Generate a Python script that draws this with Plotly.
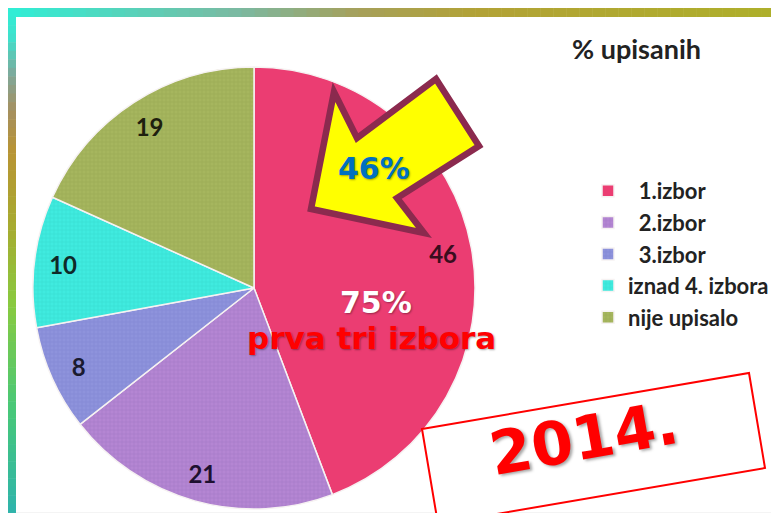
"""Pie chart: % upisanih, 2014."""

import plotly.graph_objects as go

W, H = 779, 513

# data
labels = ["1.izbor", "2.izbor", "3.izbor", "iznad 4. izbora", "nije upisalo"]
legend_names = ["\u00a0\u00a01.izbor", "\u00a0\u00a02.izbor", "\u00a0\u00a03.izbor",
                "iznad 4. izbora", "nije upisalo"]
values = [46, 21, 8, 10, 19]
colors = ["#EB3D72", "#B486D3", "#8E93DC", "#40EBDF", "#A6B65E"]
pattern_fg = ["#EB3D72", "#9468B8", "#7276C6", "#2ACDC2", "#8A9A46"]
value_colors = ["#3a0d1e", "#1e1030", "#1a1a30", "#0f2a28", "#1e200e"]

title_text = "% upisanih"
arrow_text = "46%"
share_text = "75%"
share_note = "prva tri izbora"
year_text = "2014."


def px(x, y):
    """pixel -> paper coords"""
    return x / W, 1 - y / H


def path_from(points):
    parts = []
    for i, (x, y) in enumerate(points):
        a, b = px(x, y)
        parts.append(("M" if i == 0 else "L") + f"{a:.5f},{b:.5f}")
    return " ".join(parts) + " Z"


def hex_mix(c1, c2, t):
    a = [int(c1[i:i + 2], 16) for i in (1, 3, 5)]
    b = [int(c2[i:i + 2], 16) for i in (1, 3, 5)]
    return "#" + "".join(f"{round(a[k] + (b[k] - a[k]) * t):02x}" for k in range(3))


def gradient_band(stops, horizontal, thick, steps=60):
    """stepwise frame band of the slide"""
    out = []
    length = W if horizontal else H
    for s in range(steps):
        p0, p1 = length * s / steps, length * (s + 1) / steps
        pos = (p0 + p1) / 2 / length
        for j in range(len(stops) - 1):
            if stops[j][0] <= pos <= stops[j + 1][0]:
                t = (pos - stops[j][0]) / (stops[j + 1][0] - stops[j][0])
                col = hex_mix(stops[j][1], stops[j + 1][1], t)
                break
        if horizontal:
            x0, y0 = px(p0, 0)
            x1, y1 = px(p1 + 0.5, thick)
        else:
            x0, y0 = px(0, p0)
            x1, y1 = px(thick, p1 + 0.5)
        out.append(dict(type="rect", xref="paper", yref="paper", x0=x0, x1=x1,
                        y0=y0, y1=y1, fillcolor=col, line_width=0, layer="below"))
    return out


# pie box in pixels (left, right, top, bottom)
pie_l, pie_r, pie_t, pie_b = 25, 467, 59, 501
pie_domain = dict(x=[pie_l / W, pie_r / W], y=[1 - pie_b / H, 1 - pie_t / H])

fig = go.Figure()

fig.add_trace(go.Pie(
    labels=legend_names,
    values=values,
    sort=False,
    direction="clockwise",
    rotation=0,
    textinfo="none",
    marker=dict(
        colors=colors,
        line=dict(color="#f6f2f2", width=1.5),
        pattern=dict(shape=["", "+", "+", "+", "+"], size=4, solidity=0.3,
                     fgcolor=pattern_fg, fgopacity=0.4, fillmode="overlay"),
    ),
    domain=pie_domain,
    hoverinfo="label+value",
))

# transparent ring carrying the value labels near the rim
fig.add_trace(go.Pie(
    labels=legend_names,
    values=values,
    sort=False,
    direction="clockwise",
    rotation=0,
    hole=0.74,
    texttemplate="%{value}",
    textposition="inside",
    insidetextorientation="horizontal",
    textfont=dict(family="Lato", size=24, color=value_colors, weight=700),
    marker=dict(colors=["rgba(0,0,0,0)"] * len(values), line=dict(width=0)),
    domain=pie_domain,
    showlegend=False,
    hoverinfo="skip",
))

shapes = []
top_stops = [(0.0, "#2FEFD6"), (0.3, "#7CB8A0"), (0.45, "#A6A05A"),
             (0.6, "#B2A236"), (1.0, "#AEB02A")]
left_stops = [(0.0, "#2FEFD6"), (0.06, "#40E0CC"), (0.13, "#80A89A"),
              (0.2, "#A59060"), (0.28, "#B89434"), (0.42, "#A8AA30"),
              (0.58, "#88CA40"), (0.78, "#48C878"), (1.0, "#2DB2B0")]
shapes += gradient_band(top_stops, True, 9)
shapes += gradient_band(left_stops, False, 8)

# right and bottom edges of the slide
shapes.append(dict(type="rect", xref="paper", yref="paper", x0=771 / W, x1=1,
                   y0=0, y1=1 - 9 / H, fillcolor="#eeeeee",
                   line=dict(color="#dadada", width=1), layer="below"))
shapes.append(dict(type="rect", xref="paper", yref="paper", x0=8 / W, x1=771 / W,
                   y0=0, y1=1 - 504 / H, fillcolor="#f4f4f4", line_width=0,
                   layer="below"))

# arrow pointing at the first slice
arrow_pts = [(326, 84), (349, 130), (428, 71), (471, 138), (389, 190),
             (416, 225), (303, 201)]
shapes.append(dict(type="path", xref="paper", yref="paper", path=path_from(arrow_pts),
                   fillcolor="#FFFF00", line=dict(color="#8B2A4E", width=6.5)))

# tilted frame of the year
box_pts = [(414, 421), (741, 365), (757, 460), (430, 516)]
shapes.append(dict(type="path", xref="paper", yref="paper", path=path_from(box_pts),
                   fillcolor="white", line=dict(color="#FF0000", width=2)))

annotations = []


def note(text, x, y, size, color, family="DejaVu Sans", weight=700,
         angle=0, shadow="none"):
    ax, ay = px(x, y)
    annotations.append(dict(text=text, xref="paper", yref="paper", x=ax, y=ay,
                            xanchor="center", yanchor="middle", showarrow=False,
                            textangle=angle,
                            font=dict(family=family, size=size, color=color,
                                      weight=weight, shadow=shadow)))


note(title_text, 628, 40, 27, "#222222", family="Lato")
note(arrow_text, 366, 160, 30, "#0070C0", shadow="1px 1px 2px rgba(0,0,0,0.35)")
note(share_text, 368, 294, 30, "#FFFFFF", shadow="1px 1px 2px rgba(0,0,0,0.35)")
note(share_note, 363, 330, 31, "#FF0000", shadow="1px 1px 2px rgba(0,0,0,0.35)")
note(year_text, 576, 430, 60, "#FF0000", angle=-10,
     shadow="2px 2px 3px rgba(0,0,0,0.35)")

fig.update_layout(
    width=W,
    height=H,
    margin=dict(l=0, r=0, t=0, b=0),
    paper_bgcolor="white",
    plot_bgcolor="white",
    shapes=shapes,
    annotations=annotations,
    showlegend=True,
    legend=dict(
        x=580 / W, y=1 - 162 / H, xanchor="left", yanchor="top",
        bgcolor="rgba(0,0,0,0)",
        font=dict(family="Lato", size=22, color="#222222", weight=700),
        traceorder="normal",
    ),
)

fig.write_html("out.html")
